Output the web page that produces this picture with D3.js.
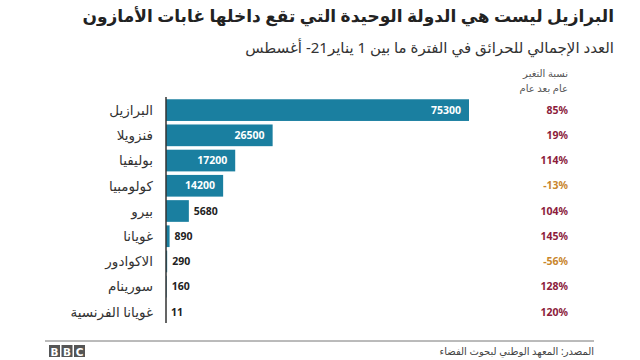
<!DOCTYPE html>
<html><head><meta charset="utf-8">
<script src="https://cdn.jsdelivr.net/npm/d3@7"></script>
<style>body{margin:0;background:#fff}svg{display:block}</style>
</head><body>
<svg id="c" width="640" height="360"></svg>
<script>
const countries = ["البرازيل","فنزويلا","بوليفيا","كولومبيا","بيرو","غويانا","الاكوادور","سورينام","غويانا الفرنسية"];
const fires = [75300,26500,17200,14200,5680,890,290,160,11];
const changes = [85,19,114,-13,104,145,-56,128,120];

const svg = d3.select("#c");
const font = "'Noto Sans', 'DejaVu Sans', sans-serif";
const x = d3.scaleLinear().domain([0,75300]).range([166,469]);
const y = d3.scaleBand().domain(countries).range([98,324]).paddingInner(0.14).paddingOuter(0.05);

function rtl(sel){ return sel.attr("direction","rtl").attr("text-anchor","start"); }

rtl(svg.append("text")).attr("x",614).attr("y",22)
  .attr("font-family",font).attr("font-weight","bold").attr("font-size",17).attr("fill","#222")
  .text("البرازيل ليست هي الدولة الوحيدة التي تقع داخلها غابات الأمازون");
rtl(svg.append("text")).attr("x",614).attr("y",53)
  .attr("font-family",font).attr("font-size",15).attr("fill","#333")
  .text("العدد الإجمالي للحرائق في الفترة ما بين 1 يناير21- أغسطس");

rtl(svg.append("text")).attr("x",568).attr("y",77)
  .attr("font-family",font).attr("font-size",10).attr("fill","#555").text("نسبة التغير");
rtl(svg.append("text")).attr("x",568).attr("y",92)
  .attr("font-family",font).attr("font-size",10).attr("fill","#555").text("عام بعد عام");

svg.selectAll("rect.bar").data(fires).join("rect").attr("class","bar")
  .attr("x",x(0)).attr("y",(d,i)=>y(countries[i])).attr("height",y.bandwidth())
  .attr("width",d=>x(d)-x(0)).attr("fill","#1a7fa0");

svg.append("line").attr("x1",166).attr("x2",166).attr("y1",97).attr("y2",323)
  .attr("stroke","#333").attr("stroke-width",1.5);

rtl(svg.selectAll("text.lab").data(countries).join("text").attr("class","lab"))
  .attr("x",153).attr("y",d=>y(d)+y.bandwidth()/2).attr("dy","0.35em")
  .attr("font-family",font).attr("font-size",13.5).attr("fill","#333").text(d=>d);

svg.selectAll("text.val").data(fires).join("text").attr("class","val")
  .attr("x",d=> d>10000 ? x(d)-8 : x(d)+5)
  .attr("y",(d,i)=>y(countries[i])+y.bandwidth()/2).attr("dy","0.35em")
  .attr("text-anchor",d=> d>10000 ? "end" : "start")
  .attr("font-family",font).attr("font-weight","bold").attr("font-size",10.5)
  .attr("fill",d=> d>10000 ? "#fff" : "#222").text(d=>d);

svg.selectAll("text.chg").data(changes).join("text").attr("class","chg")
  .attr("x",568).attr("y",(d,i)=>y(countries[i])+y.bandwidth()/2).attr("dy","0.35em")
  .attr("text-anchor","end")
  .attr("font-family",font).attr("font-weight","bold").attr("font-size",10.5)
  .attr("fill",d=> d<0 ? "#c9862c" : "#8c1c3c").text(d=>d+"%");

svg.append("line").attr("x1",45).attr("x2",594).attr("y1",341).attr("y2",341)
  .attr("stroke","#777").attr("stroke-width",1);

const bbc = svg.append("g");
["B","B","C"].forEach((l,i)=>{
  bbc.append("rect").attr("x",49+i*12.5).attr("y",345).attr("width",11).attr("height",12).attr("fill","#555");
  bbc.append("text").attr("x",49+i*12.5+5.5).attr("y",355.5).attr("text-anchor","middle")
    .attr("font-family","'DejaVu Sans', sans-serif").attr("font-weight","bold").attr("font-size",10.5).attr("fill","#fff").text(l);
});
rtl(svg.append("text")).attr("x",594).attr("y",355)
  .attr("font-family",font).attr("font-size",10).attr("fill","#444").text("المصدر: المعهد الوطني لبحوث الفضاء");
</script>
</body></html>
